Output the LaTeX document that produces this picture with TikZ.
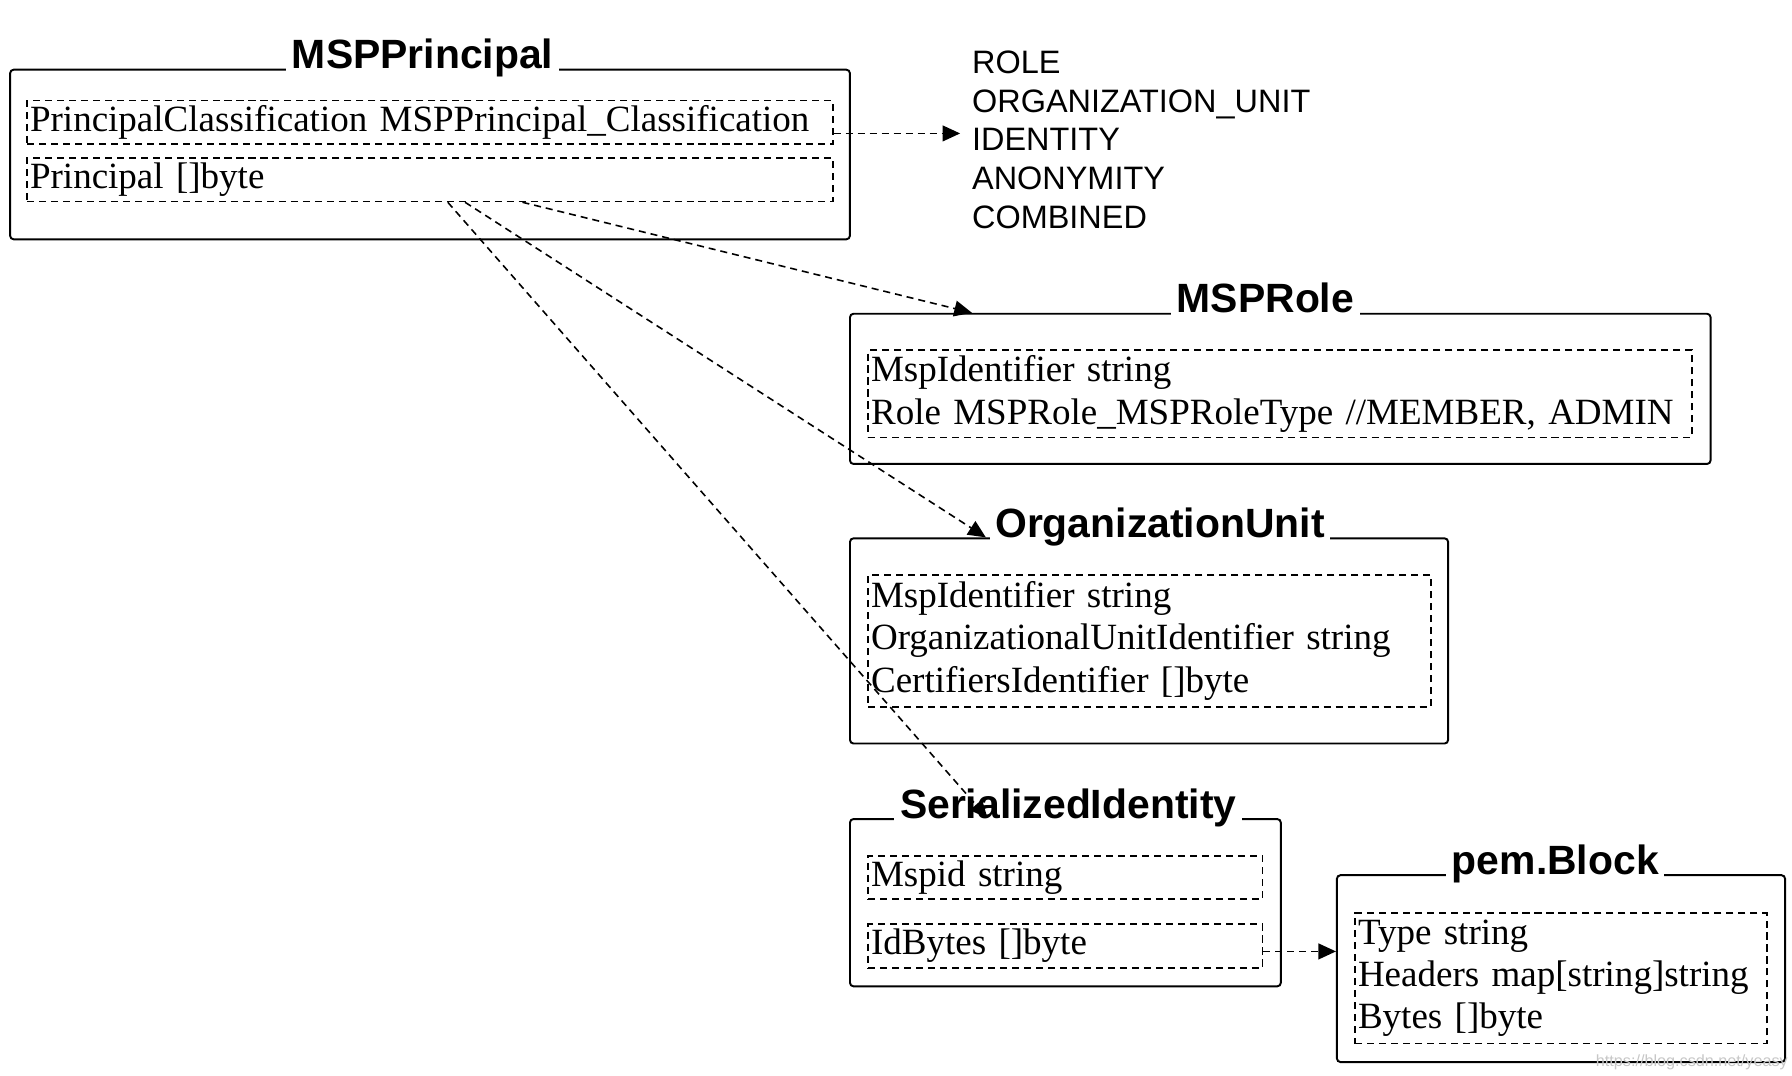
\documentclass[tikz,border=0pt]{standalone}
\usepackage{fontspec}
\setmainfont{Liberation Serif}
\setsansfont{Liberation Sans}
\usetikzlibrary{calc,arrows.meta}

\tikzset{
  classbox/.style={draw, line width=0.55pt, rounded corners=1pt, anchor=north west, inner sep=0pt},
  fieldbox/.style={draw, dash pattern=on 2pt off 1.4pt, line width=0.5pt, anchor=north west,
    align=left, inner xsep=0.8pt, inner ysep=0pt, font=\fontsize{10.5}{12}\selectfont},
  classname/.style={fill=white, anchor=base, inner xsep=1.6pt, inner ysep=1pt,
    font=\sffamily\bfseries\fontsize{11.6}{13}\selectfont},
  enumlist/.style={anchor=west, align=left, inner xsep=3.2pt, font=\sffamily\fontsize{9.2}{10.95}\selectfont},
  link/.style={-{Triangle[length=5pt,width=4.5pt]}, dash pattern=on 2pt off 1.4pt, line width=0.45pt},
}

\begin{document}
\begin{tikzpicture}[x=0.325pt, y=-0.325pt]
\useasboundingbox (0,0) rectangle (1564,939);

% MSPPrincipal
\node[classbox, minimum width=238.2pt, minimum height=48.1pt] (pr) at (8,60) {};
\node[fieldbox, text width=226.9pt, minimum height=12.35pt] (fc) at (23,87) {PrincipalClassification MSPPrincipal\_Classification};
\node[fieldbox, text width=226.9pt, minimum height=12.35pt] (fp) at (23,137) {Principal []byte};
\node[classname, xshift=-2.1pt] (prname) at (pr.north) {MSPPrincipal};

\node[enumlist] (kinds) at (838,122) {ROLE\\ORGANIZATION\_UNIT\\IDENTITY\\ANONYMITY\\COMBINED};
\coordinate[yshift=1.8pt] (kindtip) at (kinds.west);

% MSPRole
\node[classbox, minimum width=244.1pt, minimum height=42.6pt] (role) at (741,273) {};
\node[fieldbox, text width=232.1pt, minimum height=24.7pt] (rf) at (757,305) {MspIdentifier string\\Role MSPRole\_MSPRoleType //MEMBER, ADMIN};
\node[classname, xshift=-4.2pt] (rolename) at (role.north) {MSPRole};

% OrganizationUnit
\node[classbox, minimum width=169.65pt, minimum height=58.2pt] (ou) at (741,469) {};
\node[fieldbox, text width=158pt, minimum height=37.4pt] (of) at (757,501) {MspIdentifier string\\OrganizationalUnitIdentifier string\\CertifiersIdentifier []byte};
\node[classname, xshift=3.1pt] (ouname) at (ou.north) {OrganizationUnit};

% SerializedIdentity
\node[classbox, minimum width=122.2pt, minimum height=47.45pt] (si) at (741,714) {};
\node[fieldbox, text width=110.2pt, minimum height=12.35pt] (sm) at (757,746) {Mspid string};
\node[fieldbox, text width=110.2pt, minimum height=12.35pt] (ib) at (757,806) {IdBytes []byte};
\node[classname, xshift=0.8pt] (siname) at (si.north) {SerializedIdentity};

% pem.Block
\node[classbox, minimum width=127.1pt, minimum height=53pt] (pem) at (1166,763) {};
\node[fieldbox, text width=115.1pt, minimum height=37.05pt] (pf) at (1182,796) {Type string\\Headers map[string]string\\Bytes []byte};
\node[classname, xshift=-1.6pt] (pemname) at (pem.north) {pem.Block};

% links
\draw[link] (kindtip -| fc.east) -- (kindtip);
\draw[link] ($(fp.south west)!0.6145!(fp.south east)$) -- ($(role.north west)!0.1425!(role.north east)$);
\draw[link] ($(fp.south west)!0.5434!(fp.south east)$) -- ($(ou.north west)!0.228!(ou.north east)$);
\draw[link] ($(fp.south west)!0.522!(fp.south east)$) -- ($(si.north west)!0.32!(si.north east)$);
\draw[link] ([yshift=-1.5pt]ib.east) -- ([yshift=-1.5pt]ib.east -| pem.west);

\node[anchor=east, inner sep=0pt, text=black!22, font=\sffamily\fontsize{4.6}{5}\selectfont] (mark) at (1561,927) {https://blog.csdn.net/yeasy};
\end{tikzpicture}
\end{document}
